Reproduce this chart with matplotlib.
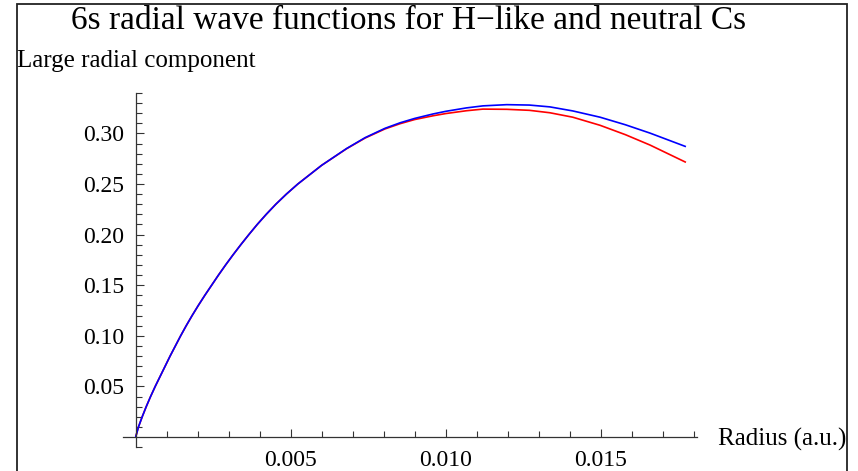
import numpy as np
import matplotlib
matplotlib.use("Agg")
import matplotlib.pyplot as plt
from matplotlib.patches import Rectangle
from matplotlib.ticker import FixedLocator

plt.rcParams["font.family"] = ["Liberation Serif", "DejaVu Serif"]

# radius (a.u.)
radius = [0.0, 0.00009, 0.00021, 0.00034, 0.00048, 0.00063, 0.00079,
          0.00095, 0.00111, 0.00128, 0.00145, 0.00163, 0.00182, 0.00202,
          0.00223, 0.00245, 0.00267, 0.00290, 0.00314, 0.00339, 0.00365,
          0.00392, 0.00421, 0.00452, 0.00486, 0.00523, 0.0060, 0.0068,
          0.0074, 0.00804, 0.00853, 0.0090, 0.00959, 0.0100, 0.01067,
          0.0112, 0.01197, 0.0127, 0.01336, 0.0141, 0.01498, 0.0158,
          0.01659, 0.01775]
# H-like Cs 6s (blue)
h_like = [0.0, 0.01, 0.02, 0.03, 0.04, 0.05, 0.06,
          0.07, 0.08, 0.09, 0.10, 0.11, 0.12, 0.13,
          0.14, 0.15, 0.16, 0.17, 0.18, 0.19, 0.20,
          0.21, 0.22, 0.23, 0.24, 0.25, 0.2685, 0.2850,
          0.2958, 0.3050, 0.3105, 0.3148, 0.3192, 0.3218, 0.3252,
          0.3272, 0.3284, 0.3280, 0.3262, 0.3222, 0.3160, 0.3085,
          0.3003, 0.2869]
# neutral Cs 6s (red)
neutral = [0.0, 0.01, 0.02, 0.03, 0.04, 0.05, 0.06,
           0.07, 0.08, 0.09, 0.10, 0.11, 0.12, 0.13,
           0.14, 0.15, 0.16, 0.17, 0.18, 0.19, 0.20,
           0.21, 0.22, 0.23, 0.24, 0.25, 0.2685, 0.2848,
           0.2954, 0.3044, 0.3096, 0.3137, 0.3174, 0.3196, 0.3224,
           0.3240, 0.3238, 0.3228, 0.3204, 0.3160, 0.3080, 0.2987,
           0.2885, 0.2714]

W, H = 858, 471
fig = plt.figure(figsize=(W / 100, H / 100), dpi=100)
ax = fig.add_axes([100 / W, 1 - 460 / H, 620 / W, 375 / H])

ax.plot(radius, neutral, color="#ff0000", lw=1.2, solid_capstyle="butt")
ax.plot(radius, h_like, color="#0000ff", lw=1.2, solid_capstyle="butt")

ax.set_xlim((100 - 135.7) / 31000, (720 - 135.7) / 31000)
ax.set_ylim((437 - 460) / 1012, (437 - 85) / 1012)

# Mathematica style axes crossing at the origin
for side in ("top", "right"):
    ax.spines[side].set_visible(False)
ax.spines["left"].set_position(("data", 0))
ax.spines["bottom"].set_position(("data", 0))
ax.spines["left"].set_bounds(-0.0096, 0.340)
ax.spines["bottom"].set_bounds(-0.0004, 0.0181)
for side in ("left", "bottom"):
    ax.spines[side].set_linewidth(0.9)
    ax.spines[side].set_color("#333333")

ax.xaxis.set_major_locator(FixedLocator([0.005, 0.010, 0.015]))
ax.xaxis.set_minor_locator(FixedLocator([i * 0.001 for i in range(1, 19) if i % 5]))
ax.yaxis.set_major_locator(FixedLocator([0.05, 0.10, 0.15, 0.20, 0.25, 0.30]))
ax.yaxis.set_minor_locator(FixedLocator([i * 0.01 for i in range(-1, 35) if i % 5]))
ax.xaxis.set_major_formatter(plt.FuncFormatter(lambda v, p: f"{v:.3f}"))
ax.yaxis.set_major_formatter(plt.FuncFormatter(lambda v, p: f"{v:.2f}"))

ax.tick_params(which="both", direction="in", labelsize=17, color="#333333", width=0.8)
ax.tick_params(which="major", length=6)
ax.tick_params(which="minor", length=4)
ax.tick_params(axis="x", pad=9)
ax.tick_params(axis="y", pad=8)

fig.text(409 / W, 1 - 29 / H, "6s radial wave functions for H\u2212like and neutral Cs",
         fontsize=24, ha="center", va="baseline")
fig.text(17 / W, 1 - 67 / H, "Large radial component", fontsize=18, ha="left", va="baseline")
fig.text(718 / W, 1 - 446 / H, "Radius (a.u.)", fontsize=18, ha="left", va="baseline")

fig.patches.append(Rectangle((17 / W, -0.2), 830 / W, 1.2 - 4 / H, transform=fig.transFigure,
                             fill=False, edgecolor="#222222", lw=1.3))

fig.savefig("out.png", dpi=100)
